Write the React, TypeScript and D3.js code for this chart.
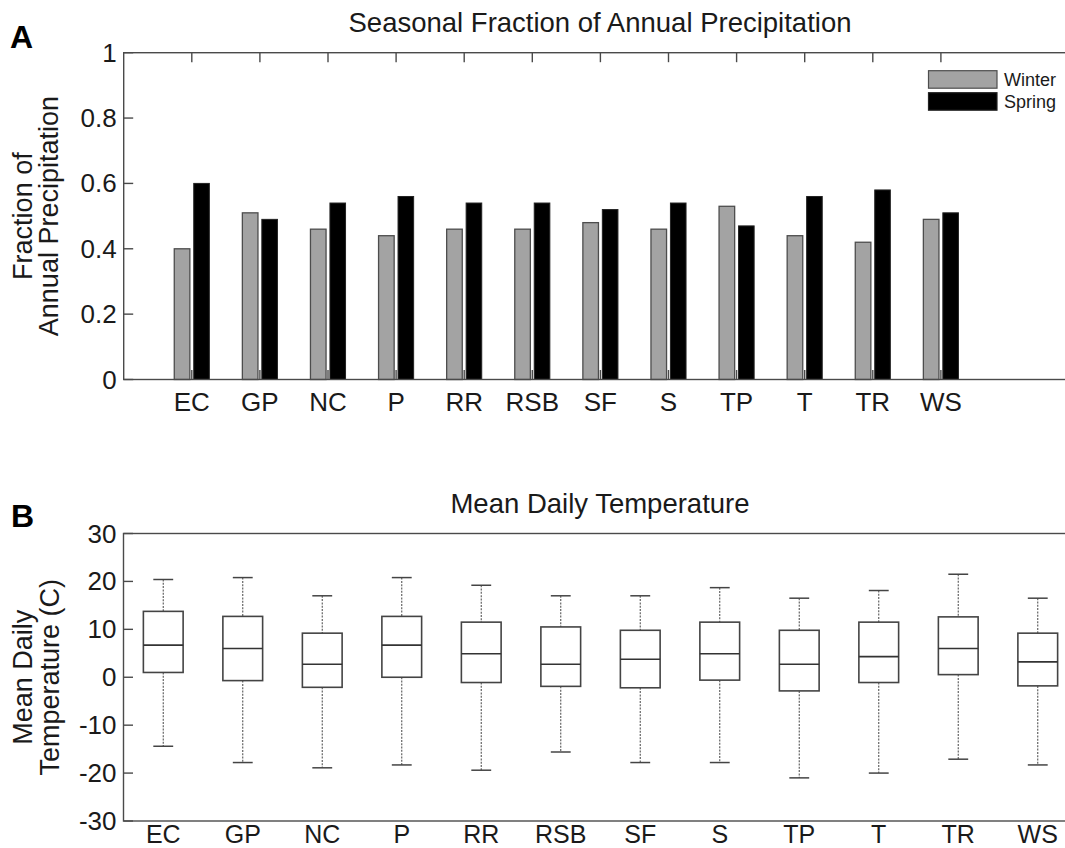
import React, { useEffect, useRef } from 'react';
import * as d3 from 'd3';

// regions (x categories, same for both panels)
const regions = ['EC', 'GP', 'NC', 'P', 'RR', 'RSB', 'SF', 'S', 'TP', 'T', 'TR', 'WS'];

// panel A: seasonal fraction of annual precipitation
const winterFrac = [0.40, 0.51, 0.46, 0.44, 0.46, 0.46, 0.48, 0.46, 0.53, 0.44, 0.42, 0.49];
const springFrac = [0.60, 0.49, 0.54, 0.56, 0.54, 0.54, 0.52, 0.54, 0.47, 0.56, 0.58, 0.51];
const fracTicks = [0, 0.2, 0.4, 0.6, 0.8, 1];

// panel B: mean daily temperature box stats (C)
const tempUpper = [20.4, 20.8, 17.0, 20.8, 19.2, 17.0, 17.0, 18.7, 16.5, 18.1, 21.5, 16.5];
const tempQ3 = [13.75, 12.7, 9.2, 12.7, 11.5, 10.5, 9.8, 11.5, 9.8, 11.5, 12.6, 9.2];
const tempMedian = [6.7, 6.0, 2.7, 6.7, 4.9, 2.7, 3.75, 4.9, 2.7, 4.3, 6.0, 3.2];
const tempQ1 = [1.0, -0.7, -2.1, 0.0, -1.1, -1.9, -2.2, -0.6, -2.85, -1.1, 0.55, -1.8];
const tempLower = [-14.4, -17.8, -18.9, -18.3, -19.4, -15.6, -17.8, -17.8, -21.0, -20.0, -17.1, -18.3];
const tempTicks = [-30, -20, -10, 0, 10, 20, 30];

const FONT = '"Liberation Sans", Arial, sans-serif';
const AXIS = '#4a4a4a';
const TXT = '#1a1a1a';

const App = () => {
  const svgRef = useRef<SVGSVGElement>(null);
  const W = 1065;
  const H = 848;

  useEffect(() => {
    const svg = d3.select(svgRef.current);
    svg.selectAll('*').remove();
    svg.attr('width', W).attr('height', H).style('font-family', FONT);

    // ---------- Panel A ----------
    const xA = d3.scaleLinear().domain([0, 14]).range([123.7, 123.7 + 68.1 * 14]);
    const yA = d3.scaleLinear().domain([0, 1]).range([379.5, 52.7]);
    const gA = svg.append('g');
    const barW = xA(0.229) - xA(0);
    const off = xA(0.143) - xA(0);

    const dataA = regions.map((r, i) => ({ r, i: i + 1, w: winterFrac[i], s: springFrac[i] }));

    gA.selectAll('.winter')
      .data(dataA)
      .enter().append('rect')
      .attr('x', d => xA(d.i) - off - barW / 2)
      .attr('y', d => yA(d.w))
      .attr('width', barW)
      .attr('height', d => yA(0) - yA(d.w))
      .attr('fill', '#a3a3a3')
      .attr('stroke', '#4d4d4d')
      .attr('stroke-width', 1.3);

    gA.selectAll('.spring')
      .data(dataA)
      .enter().append('rect')
      .attr('x', d => xA(d.i) + off - barW / 2)
      .attr('y', d => yA(d.s))
      .attr('width', barW)
      .attr('height', d => yA(0) - yA(d.s))
      .attr('fill', '#000')
      .attr('stroke', '#222')
      .attr('stroke-width', 1);

    // box frame
    gA.append('rect')
      .attr('x', xA(0)).attr('y', yA(1))
      .attr('width', xA(14) - xA(0)).attr('height', yA(0) - yA(1))
      .attr('fill', 'none').attr('stroke', AXIS).attr('stroke-width', 1.4);

    // inward ticks
    gA.selectAll('.ytick')
      .data(fracTicks)
      .enter().append('line')
      .attr('x1', xA(0)).attr('x2', xA(0) + 9.5)
      .attr('y1', d => yA(d)).attr('y2', d => yA(d))
      .attr('stroke', AXIS).attr('stroke-width', 1.4);
    gA.selectAll('.xtickB')
      .data(dataA)
      .enter().append('line')
      .attr('x1', d => xA(d.i)).attr('x2', d => xA(d.i))
      .attr('y1', yA(0)).attr('y2', yA(0) - 9.5)
      .attr('stroke', AXIS).attr('stroke-width', 1.4);
    gA.selectAll('.xtickT')
      .data(dataA)
      .enter().append('line')
      .attr('x1', d => xA(d.i)).attr('x2', d => xA(d.i))
      .attr('y1', yA(1)).attr('y2', yA(1) + 9.5)
      .attr('stroke', AXIS).attr('stroke-width', 1.4);

    gA.selectAll('.ylab')
      .data(fracTicks)
      .enter().append('text')
      .attr('x', xA(0) - 7)
      .attr('y', d => yA(d) + 9)
      .attr('text-anchor', 'end')
      .attr('font-size', 26)
      .attr('fill', TXT)
      .text(d => String(d));

    gA.selectAll('.xlab')
      .data(dataA)
      .enter().append('text')
      .attr('x', d => xA(d.i))
      .attr('y', 411)
      .attr('text-anchor', 'middle')
      .attr('font-size', 26)
      .attr('fill', TXT)
      .text(d => d.r);

    gA.append('text')
      .attr('x', 600).attr('y', 32)
      .attr('text-anchor', 'middle')
      .attr('font-size', 27.5)
      .attr('fill', TXT)
      .text('Seasonal Fraction of Annual Precipitation');

    const yLabA = gA.append('text')
      .attr('transform', `translate(0,${(yA(0) + yA(1)) / 2}) rotate(-90)`)
      .attr('text-anchor', 'middle')
      .attr('font-size', 27)
      .attr('fill', TXT);
    yLabA.append('tspan').attr('x', 0).attr('y', 32).text('Fraction of');
    yLabA.append('tspan').attr('x', 0).attr('y', 58).text('Annual Precipitation');

    svg.append('text')
      .attr('x', 10).attr('y', 48)
      .attr('font-size', 32).attr('font-weight', 'bold')
      .attr('fill', '#000')
      .text('A');

    // legend
    const legend = gA.append('g');
    [
      { name: 'Winter', fill: '#a3a3a3', stroke: '#4d4d4d', y: 70.7 },
      { name: 'Spring', fill: '#000', stroke: '#222', y: 92.7 },
    ].forEach(l => {
      legend.append('rect')
        .attr('x', 928.5).attr('y', l.y)
        .attr('width', 68.5).attr('height', 17.5)
        .attr('fill', l.fill).attr('stroke', l.stroke).attr('stroke-width', 1.2);
      legend.append('text')
        .attr('x', 1004).attr('y', l.y + 15.5)
        .attr('font-size', 18)
        .attr('fill', TXT)
        .text(l.name);
    });

    // ---------- Panel B ----------
    const xB = d3.scaleLinear().domain([0.5, 12.5]).range([123.5, 123.5 + 79.5 * 12]);
    const yB = d3.scaleLinear().domain([-30, 30]).range([821, 533.5]);
    const gB = svg.append('g');

    const dataB = regions.map((r, i) => ({
      r, i: i + 1,
      hi: tempUpper[i], q3: tempQ3[i], med: tempMedian[i], q1: tempQ1[i], lo: tempLower[i],
    }));
    const boxW = xB(1.25) - xB(0.75);
    const capW = xB(1.125) - xB(0.875);

    gB.append('rect')
      .attr('x', xB(0.5)).attr('y', yB(30))
      .attr('width', xB(12.5) - xB(0.5)).attr('height', yB(-30) - yB(30))
      .attr('fill', 'none').attr('stroke', AXIS).attr('stroke-width', 1.4);

    gB.selectAll('.ytick')
      .data(tempTicks)
      .enter().append('line')
      .attr('x1', xB(0.5)).attr('x2', xB(0.5) + 9.5)
      .attr('y1', d => yB(d)).attr('y2', d => yB(d))
      .attr('stroke', AXIS).attr('stroke-width', 1.4);

    const boxes = gB.selectAll('.box')
      .data(dataB)
      .enter().append('g');

    // whiskers (dotted)
    boxes.append('line')
      .attr('x1', d => xB(d.i)).attr('x2', d => xB(d.i))
      .attr('y1', d => yB(d.hi)).attr('y2', d => yB(d.q3))
      .attr('stroke', '#555').attr('stroke-width', 1.1).attr('stroke-dasharray', '2,1.3');
    boxes.append('line')
      .attr('x1', d => xB(d.i)).attr('x2', d => xB(d.i))
      .attr('y1', d => yB(d.q1)).attr('y2', d => yB(d.lo))
      .attr('stroke', '#555').attr('stroke-width', 1.1).attr('stroke-dasharray', '2,1.3');
    // caps
    boxes.append('line')
      .attr('x1', d => xB(d.i) - capW / 2).attr('x2', d => xB(d.i) + capW / 2)
      .attr('y1', d => yB(d.hi)).attr('y2', d => yB(d.hi))
      .attr('stroke', '#444').attr('stroke-width', 1.5);
    boxes.append('line')
      .attr('x1', d => xB(d.i) - capW / 2).attr('x2', d => xB(d.i) + capW / 2)
      .attr('y1', d => yB(d.lo)).attr('y2', d => yB(d.lo))
      .attr('stroke', '#444').attr('stroke-width', 1.5);
    // box + median
    boxes.append('rect')
      .attr('x', d => xB(d.i) - boxW / 2)
      .attr('y', d => yB(d.q3))
      .attr('width', boxW)
      .attr('height', d => yB(d.q1) - yB(d.q3))
      .attr('fill', 'none').attr('stroke', '#444').attr('stroke-width', 1.6);
    boxes.append('line')
      .attr('x1', d => xB(d.i) - boxW / 2).attr('x2', d => xB(d.i) + boxW / 2)
      .attr('y1', d => yB(d.med)).attr('y2', d => yB(d.med))
      .attr('stroke', '#333').attr('stroke-width', 1.6);

    gB.selectAll('.ylab')
      .data(tempTicks)
      .enter().append('text')
      .attr('x', xB(0.5) - 7)
      .attr('y', d => yB(d) + 9)
      .attr('text-anchor', 'end')
      .attr('font-size', 26)
      .attr('fill', TXT)
      .text(d => String(d));

    gB.selectAll('.xlab')
      .data(dataB)
      .enter().append('text')
      .attr('x', d => xB(d.i))
      .attr('y', 843)
      .attr('text-anchor', 'middle')
      .attr('font-size', 25)
      .attr('fill', TXT)
      .text(d => d.r);

    gB.append('text')
      .attr('x', 600).attr('y', 513)
      .attr('text-anchor', 'middle')
      .attr('font-size', 27.5)
      .attr('fill', TXT)
      .text('Mean Daily Temperature');

    const yLabB = gB.append('text')
      .attr('transform', `translate(0,${(yB(-30) + yB(30)) / 2}) rotate(-90)`)
      .attr('text-anchor', 'middle')
      .attr('font-size', 27)
      .attr('fill', TXT);
    yLabB.append('tspan').attr('x', 0).attr('y', 32).text('Mean Daily');
    yLabB.append('tspan').attr('x', 0).attr('y', 59).text('Temperature (C)');

    svg.append('text')
      .attr('x', 11).attr('y', 527)
      .attr('font-size', 32).attr('font-weight', 'bold')
      .attr('fill', '#000')
      .text('B');
  }, []);

  return (
    <div style={{ position: 'absolute', left: 0, top: 0, width: W, height: H, background: '#fff' }}>
      <svg ref={svgRef} style={{ display: 'block' }} />
    </div>
  );
};

export default App;
